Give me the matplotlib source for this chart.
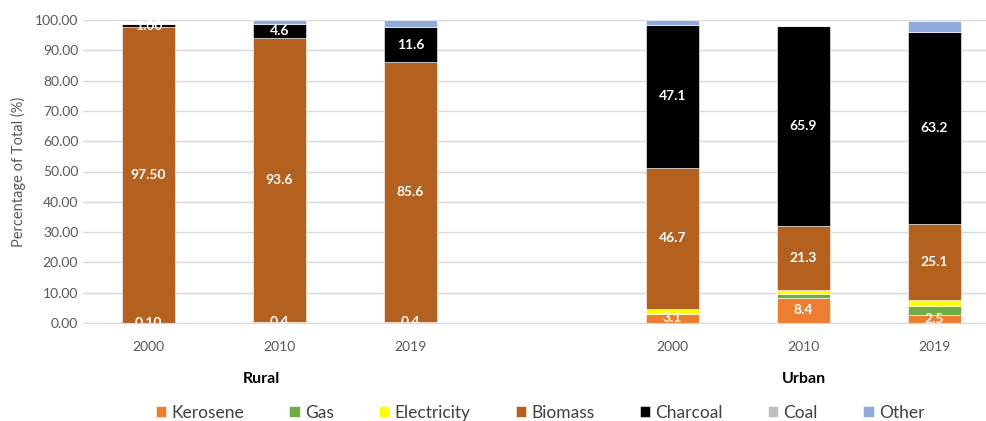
import numpy as np
import matplotlib.pyplot as plt

plt.rcParams["font.family"] = ["Lato", "DejaVu Sans"]

# stacked fuel shares, order: Rural 2000/2010/2019, Urban 2000/2010/2019
years = ["2000", "2010", "2019", "2000", "2010", "2019"]
groups = ["Rural", "Urban"]
fuels = ["Kerosene", "Gas", "Electricity", "Biomass", "Charcoal", "Coal", "Other"]

kerosene = [0.10, 0.4, 0.4, 3.1, 8.4, 2.5]
gas = [0.0, 0.0, 0.0, 0.0, 1.1, 3.0]
electricity = [0.0, 0.0, 0.0, 1.5, 1.3, 2.2]
biomass = [97.50, 93.6, 85.6, 46.7, 21.3, 25.1]
charcoal = [1.00, 4.6, 11.6, 47.1, 65.9, 63.2]
coal = [0.0, 0.0, 0.0, 0.0, 0.0, 0.0]
other = [0.0, 1.4, 2.4, 1.6, 0.0, 3.7]

kerosene_labels = ["0.10", "0.4", "0.4", "3.1", "8.4", "2.5"]
biomass_labels = ["97.50", "93.6", "85.6", "46.7", "21.3", "25.1"]
charcoal_labels = ["1.00", "4.6", "11.6", "47.1", "65.9", "63.2"]

colors = ["#ED7D31", "#70AD47", "#FFFF00", "#B4611F", "#000000", "#BFBFBF", "#8FAADC"]
series = [kerosene, gas, electricity, biomass, charcoal, coal, other]
labels = {0: kerosene_labels, 3: biomass_labels, 4: charcoal_labels}

x = np.array([0, 1, 2, 4, 5, 6])

fig = plt.figure(figsize=(9.86, 4.21), dpi=100)
ax = fig.add_axes([83 / 986, 98 / 421, 917 / 986, 303 / 421])

bottom = np.zeros(len(x))
for i, (name, vals, c) in enumerate(zip(fuels, series, colors)):
    vals = np.array(vals)
    ax.bar(x, vals, 0.4, bottom=bottom, color=c, label=name,
           edgecolor="white", linewidth=0.4, zorder=2)
    if i in labels:
        for xi, b, v, t in zip(x, bottom, vals, labels[i]):
            ax.text(xi, b + v / 2, t, ha="center", va="center", color="white",
                    fontsize=10, fontweight="bold", zorder=3, clip_on=True)
    bottom += vals

ax.set_xlim(-0.5, 6.5)
ax.set_ylim(0, 100)
ax.set_yticks(np.arange(0, 101, 10))
ax.set_yticklabels([f"{v:.2f}" for v in range(0, 101, 10)])
ax.set_xticks(x)
ax.set_xticklabels(years)
ax.tick_params(axis="both", length=0, colors="#595959", labelsize=10)
ax.tick_params(axis="x", pad=13)
ax.yaxis.grid(True, color="#D9D9D9", linewidth=1, zorder=0)
ax.set_axisbelow(True)
for s in ["top", "right", "left"]:
    ax.spines[s].set_visible(False)
ax.spines["bottom"].set_color("#D9D9D9")
ax.set_ylabel("Percentage of Total (%)", color="#595959", fontsize=10.5, labelpad=6)

# group names under the year ticks
for gx, g in zip([0.86, 5], groups):
    ax.text(gx, -18.5, g, ha="center", va="center", fontsize=11.5,
            fontweight="bold", transform=ax.transData, clip_on=False)

fig.legend(loc="center", bbox_to_anchor=(540 / 986, 1 - 413 / 421), ncol=7,
           frameon=False, fontsize=12.5, handlelength=0.6, handleheight=0.6,
           handletextpad=0.3, columnspacing=2.6, labelcolor="#404040")

fig.savefig("out.png", dpi=100)
